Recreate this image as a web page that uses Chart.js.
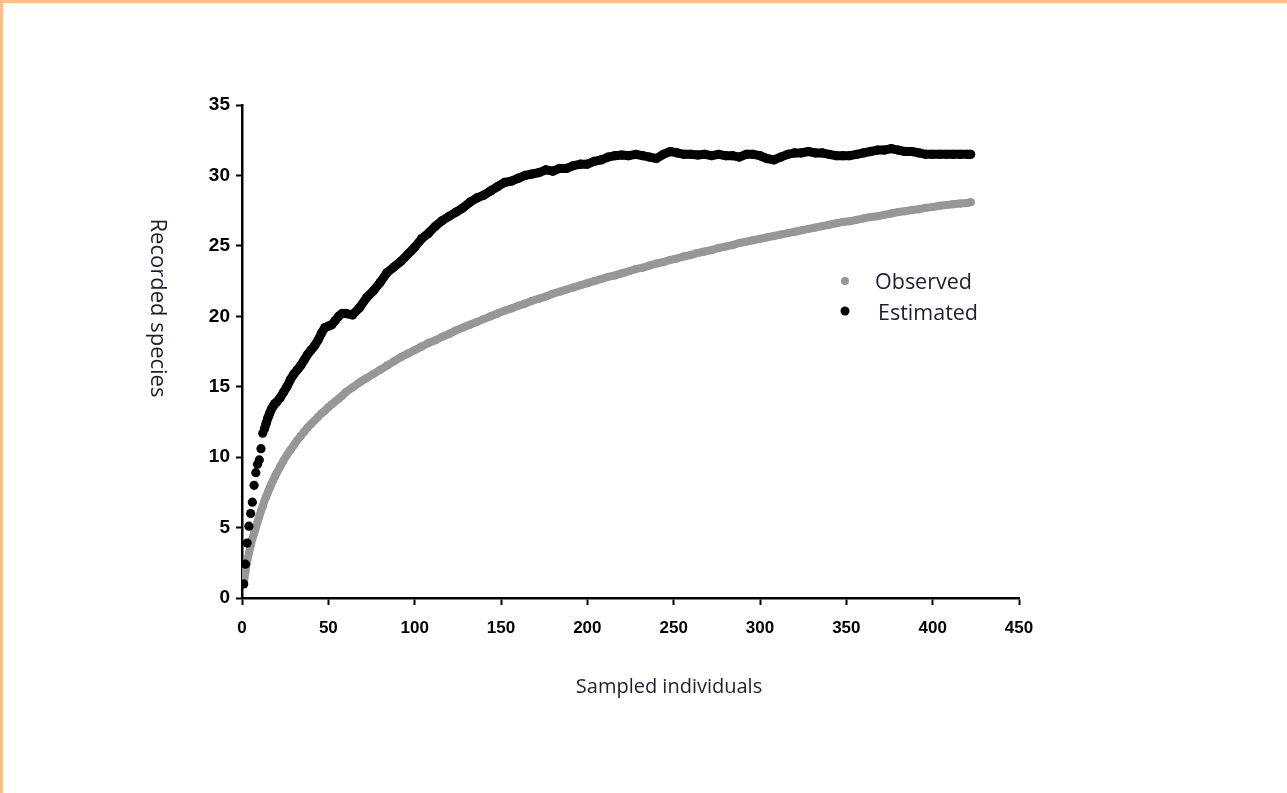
<!DOCTYPE html>
<html>
<head>
<meta charset="utf-8">
<script src="https://cdn.jsdelivr.net/npm/chart.js@4"></script>
<style>
  html, body { margin: 0; padding: 0; background: #fff; }
  #wrap { position: relative; width: 1287px; height: 793px; }
  #topEdge { position: absolute; left: 0; top: 0; width: 1287px; height: 3px; background: #fbbf8c; }
  #leftEdge { position: absolute; left: 0; top: 0; width: 3px; height: 793px; background: #fbbf8c; }
</style>
</head>
<body>
<div id="wrap">
  <canvas id="myChart" width="1287" height="793"></canvas>
  <div id="topEdge"></div>
  <div id="leftEdge"></div>
</div>
<script>
// sampled individuals (x) shared by both series
var xValues = [1, 2, 3, 4, 5, 6, 7, 8, 9, 10, 11, 12, 13, 14, 15, 16, 17, 18, 19, 20,
  22, 24, 26, 28, 30, 32, 34, 36, 38, 40, 42, 44, 46, 48, 50, 52, 54, 56, 58, 60,
  64, 68, 72, 76, 80, 84, 88, 92, 96, 100, 104, 108, 112, 116, 120, 124, 128, 132, 136, 140,
  144, 148, 152, 156, 160, 164, 168, 172, 176, 180, 184, 188, 192, 196, 200, 204, 208, 212, 216, 220,
  224, 228, 232, 236, 240, 244, 248, 252, 256, 260, 264, 268, 272, 276, 280, 284, 288, 292, 296, 300,
  304, 308, 312, 316, 320, 324, 328, 332, 336, 340, 344, 348, 352, 356, 360, 364, 368, 372, 376, 380,
  384, 388, 392, 396, 400, 404, 408, 412, 416, 420, 422];

var observed = [1.0, 1.9, 2.6, 3.2, 3.7, 4.2, 4.6, 5.0, 5.4, 5.8, 6.2, 6.5, 6.9, 7.2, 7.5, 7.8, 8.1, 8.35, 8.6, 8.85,
  9.3, 9.75, 10.15, 10.5, 10.85, 11.2, 11.5, 11.8, 12.1, 12.35, 12.6, 12.85, 13.1, 13.3, 13.55, 13.75, 13.95, 14.15, 14.35, 14.6,
  14.95, 15.3, 15.6, 15.9, 16.2, 16.5, 16.8, 17.1, 17.35, 17.6, 17.85, 18.1, 18.3, 18.55, 18.75, 19.0, 19.2, 19.4, 19.6, 19.8,
  20.0, 20.2, 20.4, 20.55, 20.75, 20.9, 21.1, 21.25, 21.4, 21.6, 21.75, 21.9, 22.05, 22.2, 22.35, 22.5, 22.65, 22.8, 22.9, 23.05,
  23.2, 23.35, 23.45, 23.6, 23.75, 23.85, 24.0, 24.1, 24.25, 24.35, 24.5, 24.6, 24.7, 24.85, 24.95, 25.05, 25.2, 25.3, 25.4, 25.5,
  25.6, 25.7, 25.8, 25.9, 26.0, 26.1, 26.2, 26.3, 26.4, 26.5, 26.6, 26.7, 26.75, 26.85, 26.95, 27.05, 27.1, 27.2, 27.3, 27.4,
  27.45, 27.55, 27.6, 27.7, 27.75, 27.85, 27.9, 27.95, 28.0, 28.05, 28.1];

var estimated = [1.0, 2.4, 3.9, 5.1, 6.0, 6.8, 8.0, 8.9, 9.5, 9.8, 10.6, 11.7, 12.0, 12.4, 12.8, 13.1, 13.4, 13.6, 13.8, 13.9,
  14.2, 14.6, 15.0, 15.5, 15.9, 16.2, 16.5, 16.9, 17.3, 17.6, 17.9, 18.3, 18.8, 19.2, 19.3, 19.4, 19.7, 20.0, 20.2, 20.2,
  20.1, 20.6, 21.3, 21.8, 22.4, 23.1, 23.5, 23.9, 24.4, 24.9, 25.5, 25.9, 26.4, 26.8, 27.1, 27.4, 27.7, 28.1, 28.4, 28.6,
  28.9, 29.2, 29.5, 29.6, 29.8, 30.0, 30.1, 30.2, 30.4, 30.3, 30.5, 30.5, 30.7, 30.8, 30.8, 31.0, 31.1, 31.3, 31.4, 31.45,
  31.4, 31.5, 31.4, 31.3, 31.2, 31.5, 31.7, 31.6, 31.5, 31.5, 31.45, 31.5, 31.4, 31.5, 31.4, 31.4, 31.3, 31.5, 31.5, 31.4,
  31.2, 31.1, 31.3, 31.5, 31.6, 31.6, 31.7, 31.6, 31.6, 31.5, 31.4, 31.4, 31.4, 31.5, 31.6, 31.7, 31.8, 31.8, 31.9, 31.8,
  31.7, 31.7, 31.6, 31.5, 31.5, 31.5, 31.5, 31.5, 31.5, 31.5, 31.5];

var xTicks = [0, 50, 100, 150, 200, 250, 300, 350, 400, 450];
var yTicks = [0, 5, 10, 15, 20, 25, 30, 35];

var seriesNames = ["Observed", "Estimated"];
var seriesColors = ["#979797", "#000000"];

function toPoints(ys) {
  return xValues.map(function (x, i) { return { x: x, y: ys[i] }; });
}

var textFont = "'Open Sans', sans-serif";
var textColor = "#1e1e2e";

// axis titles and the floating legend
var labelsPlugin = {
  id: "labels",
  afterDraw: function (chart) {
    var ctx = chart.ctx;
    ctx.save();
    ctx.fillStyle = textColor;
    ctx.textAlign = "center";
    ctx.textBaseline = "middle";
    ctx.font = "20px " + textFont;
    ctx.fillText("Sampled individuals", 669, 687);

    ctx.translate(157, 308);
    ctx.rotate(Math.PI / 2);
    ctx.font = "22px " + textFont;
    ctx.fillText("Recorded species", 0, 0);
    ctx.restore();

    ctx.save();
    ctx.font = "21.5px " + textFont;
    ctx.textBaseline = "middle";
    ctx.textAlign = "left";
    var rows = [[845, 281, 4, 875, 283], [845, 311, 4.5, 878, 314]];
    rows.forEach(function (r, i) {
      ctx.fillStyle = seriesColors[i];
      ctx.beginPath();
      ctx.arc(r[0], r[1], r[2], 0, Math.PI * 2);
      ctx.fill();
      ctx.fillStyle = textColor;
      ctx.fillText(seriesNames[i], r[3], r[4]);
    });
    ctx.restore();
  }
};

new Chart("myChart", {
  type: "scatter",
  data: {
    datasets: [
      {
        label: seriesNames[0],
        data: toPoints(observed),
        backgroundColor: seriesColors[0],
        borderColor: seriesColors[0],
        showLine: true,
        borderWidth: 8,
        borderCapStyle: "round",
        borderJoinStyle: "round",
        pointBorderWidth: 0,
        pointRadius: 4,
        order: 1
      },
      {
        label: seriesNames[1],
        data: toPoints(estimated),
        backgroundColor: seriesColors[1],
        borderColor: seriesColors[1],
        showLine: true,
        borderWidth: 9,
        borderCapStyle: "round",
        borderJoinStyle: "round",
        pointBorderWidth: 0,
        pointRadius: 4.6,
        segment: {
          // the first few estimates are separate dots
          borderColor: function (c) { return c.p0.parsed.x < 13 ? "rgba(0,0,0,0)" : "#000"; }
        },
        order: 0
      }
    ]
  },
  options: {
    responsive: false,
    animation: false,
    layout: { padding: { left: 182, top: 105, right: 268, bottom: 135 } },
    plugins: {
      legend: { display: false },
      tooltip: { enabled: false }
    },
    scales: {
      x: {
        type: "linear",
        min: 0,
        max: 450,
        afterFit: function (s) { s.height = 60; },
        afterBuildTicks: function (s) { s.ticks = xTicks.map(function (v) { return { value: v }; }); },
        border: { color: "#000", width: 2.5 },
        grid: { drawOnChartArea: false, drawTicks: true, tickLength: 7, tickWidth: 2, tickColor: "#000" },
        ticks: {
          color: "#000",
          padding: 13,
          maxRotation: 0,
          font: { family: "'Liberation Sans', Arial, sans-serif", size: 17, weight: "bold" }
        }
      },
      y: {
        type: "linear",
        min: 0,
        max: 35,
        afterFit: function (s) { s.width = 60; },
        afterBuildTicks: function (s) { s.ticks = yTicks.map(function (v) { return { value: v }; }); },
        border: { color: "#000", width: 2.5 },
        grid: { drawOnChartArea: false, drawTicks: true, tickLength: 6, tickWidth: 2, tickColor: "#000" },
        ticks: {
          color: "#000",
          padding: 6,
          font: { family: "'Liberation Sans', Arial, sans-serif", size: 19, weight: "bold" }
        }
      }
    }
  },
  plugins: [labelsPlugin]
});
</script>
</body>
</html>
